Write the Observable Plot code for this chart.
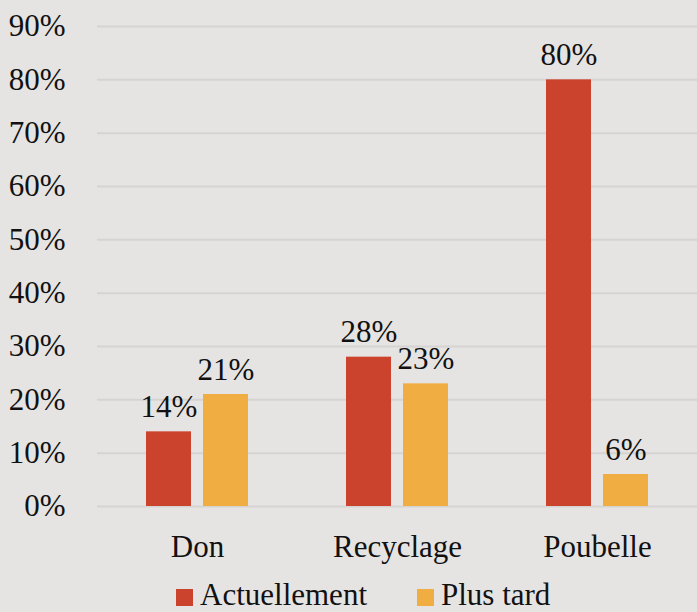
<!DOCTYPE html>
<html>
<head>
<meta charset="utf-8">
<script src="https://cdn.jsdelivr.net/npm/d3@7"></script>
<script src="https://cdn.jsdelivr.net/npm/@observablehq/plot@0.6"></script>
<style>
  html, body { margin: 0; padding: 0; background: #e6e4e3; overflow: hidden; }
  #chart svg { display: block; }
  #chart svg, #chart svg text { font-family: "Liberation Serif", "DejaVu Serif", serif !important; }
  .legend { position: relative; height: 30px; font-family: "Liberation Serif", "DejaVu Serif", serif; font-size: 31px; line-height: 30px; color: #111; }
  .legend .item { position: absolute; top: 0; white-space: nowrap; }
  .legend .sw { display: inline-block; width: 17px; height: 17px; margin-right: 7px; vertical-align: -1px; }
</style>
</head>
<body>
<div id="chart"></div>
<div class="legend" id="legend"></div>
<script>
const categories = ["Don", "Recyclage", "Poubelle"];
const series = ["Actuellement", "Plus tard"];
const actuellement = [0.14, 0.28, 0.80];
const plusTard = [0.21, 0.23, 0.06];
const yTicks = [0, 0.1, 0.2, 0.3, 0.4, 0.5, 0.6, 0.7, 0.8, 0.9];
const colors = ["#cb432d", "#f0ad42"];

const data = [];
categories.forEach((c, i) => {
  data.push({category: c, series: series[0], value: actuellement[i]});
  data.push({category: c, series: series[1], value: plusTard[i]});
});

const fmt = d3.format(".0%");
const font = "'Liberation Serif', 'DejaVu Serif', serif";

const chart = Plot.plot({
  width: 697,
  height: 575,
  marginLeft: 96,
  marginRight: 0,
  marginTop: 26,
  marginBottom: 69,
  style: {background: "#e6e4e3", fontFamily: font, fontSize: "31px", color: "#111"},
  fx: {domain: categories, padding: 0, label: null},
  x: {domain: series, paddingInner: 0.207, paddingOuter: 0.83, axis: null},
  y: {domain: [0, 0.9], ticks: yTicks, label: null},
  color: {domain: series, range: colors},
  marks: [
    Plot.ruleY(yTicks, {stroke: "#d6d4d3", strokeWidth: 2}),
    Plot.axisY({ticks: yTicks, tickFormat: fmt, tickSize: 0, tickPadding: 32, label: null, fontSize: 31}),
    Plot.axisFx({anchor: "bottom", tickSize: 0, tickPadding: 28, label: null, fontSize: 31}),
    Plot.barY(data, {fx: "category", x: "series", y: "value", fill: "series"}),
    Plot.text(data, {fx: "category", x: "series", y: "value", text: d => fmt(d.value), lineAnchor: "bottom", dy: -15, fontSize: 31, fill: "#111"})
  ]
});
document.getElementById("chart").appendChild(chart);

const legend = document.getElementById("legend");
legend.style.marginTop = "5px";
const lefts = [176, 417];
series.forEach((s, i) => {
  const item = document.createElement("div");
  item.className = "item";
  item.style.left = lefts[i] + "px";
  const sw = document.createElement("span");
  sw.className = "sw";
  sw.style.background = colors[i];
  item.appendChild(sw);
  item.appendChild(document.createTextNode(s));
  legend.appendChild(item);
});
</script>
</body>
</html>
